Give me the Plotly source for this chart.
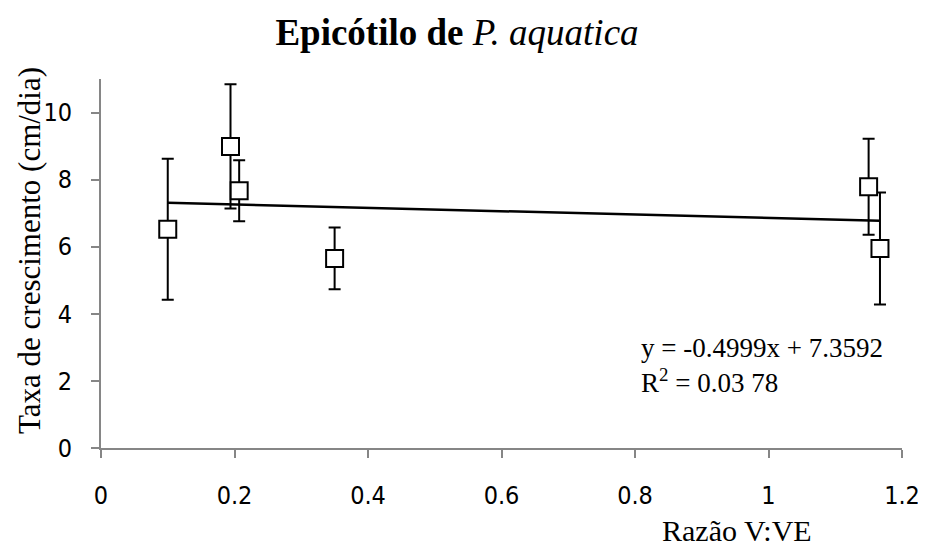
import plotly.graph_objects as go

# Data
razao = [0.10, 0.194, 0.207, 0.35, 1.15, 1.167]
taxa = [6.52, 8.99, 7.67, 5.65, 7.79, 5.95]
erro = [2.10, 1.85, 0.91, 0.92, 1.43, 1.67]

slope = -0.4999
intercept = 7.3592
trend_x = [min(razao), max(razao)]
trend_y = [slope * v + intercept for v in trend_x]

x_ticks = [0, 0.2, 0.4, 0.6, 0.8, 1, 1.2]
x_ticklabels = ["0", "0.2", "0.4", "0.6", "0.8", "1", "1.2"]
y_ticks = [0, 2, 4, 6, 8, 10]
y_ticklabels = ["0", "2", "4", "6", "8", "10"]

fig = go.Figure()

fig.add_trace(go.Scatter(
    x=trend_x, y=trend_y, mode="lines",
    line=dict(color="black", width=2.5),
    showlegend=False, hoverinfo="skip",
))

fig.add_trace(go.Scatter(
    x=razao, y=taxa, mode="markers",
    marker=dict(symbol="square", size=17, color="white",
                line=dict(color="black", width=2)),
    error_y=dict(type="data", array=erro, visible=True,
                 color="black", thickness=2, width=6),
    showlegend=False,
))

axis_color = "#868686"
tick_font = dict(family="Liberation Sans Narrow, DejaVu Sans Condensed, Arial Narrow, sans-serif",
                 size=25, color="black")
fig.update_layout(
    width=918, height=539,
    paper_bgcolor="white", plot_bgcolor="white",
    margin=dict(l=93, r=24, t=71, b=99, autoexpand=False),
    title=dict(
        text="<b>Epicótilo de </b><i>P. aquatica</i>",
        x=(457 - 8) / 918, xanchor="center",
        y=1 - 24 / 539, yanchor="middle",
        font=dict(family="Liberation Serif", size=37, color="black"),
    ),
    xaxis=dict(
        range=[0, 1.2], tickvals=x_ticks, ticktext=x_ticklabels,
        showgrid=False, zeroline=False,
        showline=True, linecolor=axis_color, linewidth=2,
        ticks="outside", ticklen=8, tickwidth=1.5, tickcolor=axis_color,
        tickfont=tick_font,
        ticklabelstandoff=16,
    ),
    yaxis=dict(
        range=[0, 11], tickvals=y_ticks, ticktext=y_ticklabels,
        showgrid=False, zeroline=False,
        showline=True, linecolor=axis_color, linewidth=2,
        ticks="outside", ticklen=8, tickwidth=1.5, tickcolor=axis_color,
        tickfont=tick_font,
        ticklabelstandoff=14,
    ),
    annotations=[
        dict(text="Taxa de crescimento (cm/dia)", xref="paper", yref="paper",
             x=-101 / 801, y=197 / 369, xanchor="center", yanchor="middle",
             xshift=29, textangle=-90, showarrow=False,
             font=dict(family="Liberation Serif", size=31, color="black")),
        dict(text="Razão V:VE", xref="paper", yref="paper",
             x=(737 - 101) / 801, y=0, yshift=-82, xanchor="center", yanchor="middle",
             showarrow=False,
             font=dict(family="Liberation Serif", size=30, color="black")),
        dict(text="y = -0.4999x + 7.3592<br>R<sup>2</sup> = 0.03 78",
             xref="paper", yref="paper",
             x=(639 - 101) / 801, y=(448 - 331) / 369, xanchor="left", yanchor="top",
             align="left", showarrow=False,
             font=dict(family="Liberation Serif", size=27, color="black")),
    ],
)

fig.write_html("out.html")
